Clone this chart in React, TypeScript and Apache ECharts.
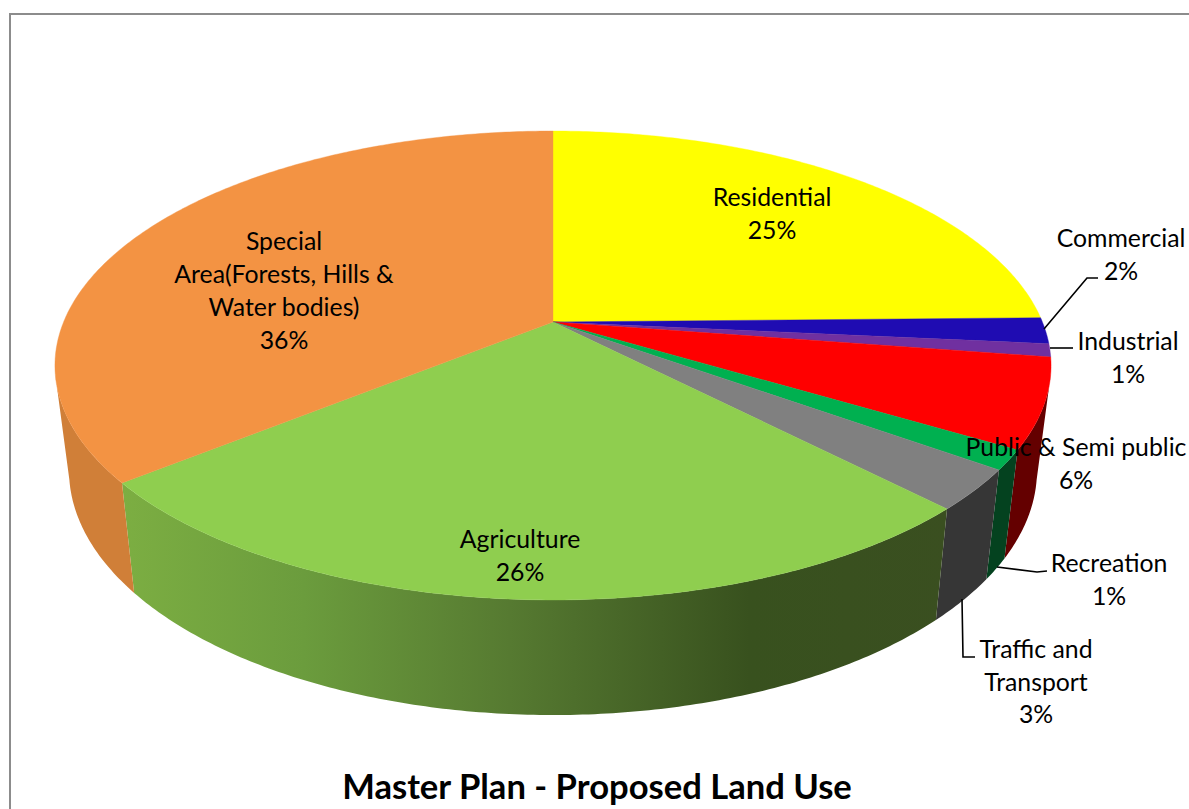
import React, { useEffect, useRef } from "react";
import * as echarts from "echarts";

const categories = ["Residential", "Commercial", "Industrial", "Public & Semi public", "Recreation", "Traffic and\nTransport", "Agriculture", "Special\nArea(Forests, Hills &\nWater bodies)"];
const shares = [24.7, 1.8, 0.9, 6.15, 1.35, 2.8, 26.49, 35.81];
const topColors = ["#ffff00", "#1f0cb2", "#7030a0", "#ff0000", "#00b050", "#808080", "#8fce4f", "#f39343"];
const sideColors: any[] = [
  "#999900", "#120770", "#431d60", "#640000", "#04421f", "#363636",
  new echarts.graphic.LinearGradient(0, 0, 1, 0, [
    { offset: 0, color: "#7cae42" },
    { offset: 0.22, color: "#6b9c3d" },
    { offset: 0.47, color: "#567a31" },
    { offset: 0.76, color: "#38511e" },
    { offset: 1, color: "#3a4f20" },
  ]),
  "#d07f38",
];
const titleText = "Master Plan - Proposed Land Use";

const labelCenters = [
  [772, 213], [1121, 254], [1128, 357], [1076, 463], [1109, 579], [1036, 681], [520, 555], [284, 290],
];
const leaders = [
  [[1044, 329], [1087, 278], [1098, 278]],
  [[1050, 348], [1073, 348]],
  [[997, 567], [1037, 572], [1047, 571]],
  [[962, 599], [963, 657], [975, 657]],
];

const TOP = { cx: 553, cy: 322, r: 489.4, s: 226.4, k: 0.1855 };
const BOTTOM = { cx: 553, cy: 424.8, r: 475.6, s: 236.4, k: 0.1855 };
// The wall of the drum is only seen between the two points where its outline leaves the top ellipse.
const WALL_FROM = 28.6;
const WALL_TO = 71.4;

function project(p: typeof TOP, share: number): number[] {
  const a = (share / 100) * Math.PI * 2;
  const u = Math.sin(a);
  const v = -Math.cos(a);
  const w = 1 - p.k * v;
  return [p.cx + (p.r * u) / w, p.cy + (p.s * v) / w];
}

function arc(p: typeof TOP, from: number, to: number): number[][] {
  const n = Math.max(2, Math.ceil((to - from) * 6));
  const pts: number[][] = [];
  for (let i = 0; i <= n; i++) pts.push(project(p, from + ((to - from) * i) / n));
  return pts;
}

const total = shares.reduce((a, b) => a + b, 0);
let running = 0;
const sliceData = shares.map((v, i) => {
  const start = (running / total) * 100;
  running += v;
  return [start, (running / total) * 100, i];
});

export default function App() {
  const ref = useRef<HTMLDivElement>(null);
  useEffect(() => {
    document.body.style.margin = "0";
    const chart = echarts.init(ref.current!, null, { renderer: "svg" });
    const font = "Lato";
    const graphics: any[] = [
      { type: "line", shape: { x1: 10, y1: 14, x2: 10, y2: 809 }, style: { stroke: "#8c8c8c", lineWidth: 2 }, z: 1 },
      { type: "line", shape: { x1: 9, y1: 14, x2: 1189, y2: 14 }, style: { stroke: "#8c8c8c", lineWidth: 2 }, z: 1 },
    ];
    leaders.forEach((pts) => {
      graphics.push({ type: "polyline", shape: { points: pts }, style: { stroke: "#000", lineWidth: 1.6, fill: "none" }, z: 90 });
    });
    categories.forEach((c, i) => {
      graphics.push({
        type: "text",
        x: labelCenters[i][0],
        y: labelCenters[i][1],
        z: 100,
        style: {
          text: `${c}\n${Math.round(shares[i])}%`,
          fill: "#000",
          font: `24.8px ${font}`,
          lineHeight: 32.7,
          align: "center",
          verticalAlign: "middle",
        },
      });
    });
    chart.setOption({
      animation: false,
      backgroundColor: "#fff",
      title: {
        text: titleText,
        left: 592,
        top: 763,
        textAlign: "center",
        textStyle: { fontFamily: font, fontWeight: "bold", fontSize: 34.6, color: "#000" },
      },
      graphic: graphics,
      series: [
        {
          type: "custom",
          coordinateSystem: "none",
          silent: true,
          z: 2,
          data: sliceData,
          renderItem: (_p: any, api: any) => {
            const s = Math.max(api.value(0), WALL_FROM);
            const e = Math.min(api.value(1), WALL_TO);
            const i = api.value(2);
            if (e <= s) return null;
            const pts = [...arc(TOP, s, e), ...arc(BOTTOM, s, e).reverse()];
            return { type: "polygon", shape: { points: pts }, style: { fill: sideColors[i], stroke: "none" } };
          },
        },
        {
          type: "custom",
          coordinateSystem: "none",
          silent: true,
          z: 3,
          data: sliceData,
          renderItem: (_p: any, api: any) => {
            const s = api.value(0);
            const e = api.value(1);
            const i = api.value(2);
            const pts = [[TOP.cx, TOP.cy], ...arc(TOP, s, e)];
            return { type: "polygon", shape: { points: pts }, style: { fill: topColors[i], stroke: topColors[i], lineWidth: 0.4 } };
          },
        },
      ],
    });
    return () => chart.dispose();
  }, []);
  return <div ref={ref} style={{ position: "absolute", left: 0, top: 0, width: 1189, height: 809, fontVariantLigatures: "none", fontFeatureSettings: '"liga" 0, "clig" 0' }} />;
}
